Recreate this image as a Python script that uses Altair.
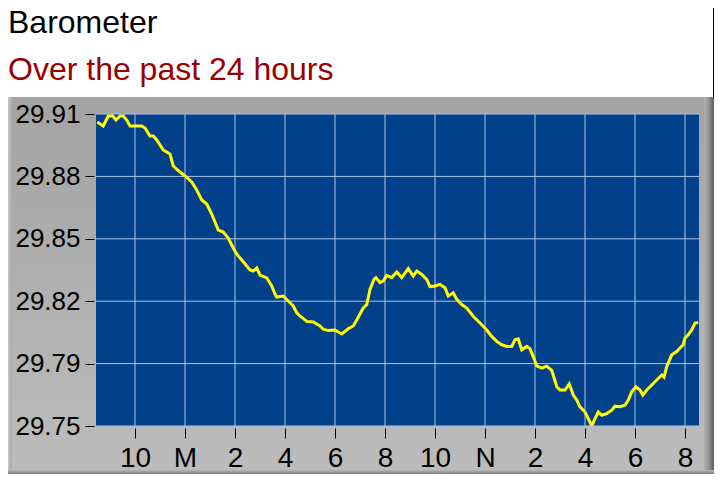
import json
import altair as alt
import pandas as pd

title_text = "Barometer"
subtitle_text = "Over the past 24 hours"

# hours counted from midnight of the first day (22 = 10 pm, 24 = midnight, 36 = noon)
hours = [20.49, 20.73, 20.93, 21.11, 21.24, 21.40, 21.53, 21.67, 21.80, 22.27,
         22.40, 22.60, 22.73, 22.87, 23.13, 23.40, 23.53, 23.80, 24.00, 24.27,
         24.47, 24.67, 24.87, 25.07, 25.33, 25.53, 25.73, 25.93, 26.07, 26.27,
         26.47, 26.60, 26.73, 26.87, 27.00, 27.27, 27.47, 27.60, 27.67, 27.93,
         28.20, 28.33, 28.47, 28.60, 28.87, 29.13, 29.40, 29.53, 29.73, 30.00,
         30.27, 30.53, 30.73, 30.87, 31.00, 31.13, 31.27, 31.40, 31.56, 31.64,
         31.80, 31.93, 32.07, 32.27, 32.47, 32.67, 32.93, 33.13, 33.27, 33.47,
         33.67, 33.80, 34.00, 34.20, 34.40, 34.53, 34.73, 34.87, 35.07, 35.27,
         35.53, 35.80, 36.07, 36.27, 36.47, 36.67, 36.87, 37.07, 37.20, 37.33,
         37.47, 37.67, 37.80, 37.93, 38.07, 38.27, 38.47, 38.67, 38.73, 38.87,
         39.00, 39.20, 39.37, 39.53, 39.67, 39.80, 40.00, 40.13, 40.27, 40.40,
         40.53, 40.67, 40.87, 41.07, 41.20, 41.40, 41.60, 41.73, 41.87, 42.04,
         42.20, 42.31, 42.47, 42.67, 42.87, 43.07, 43.16, 43.27, 43.47, 43.67,
         43.80, 43.93, 44.00, 44.13, 44.27, 44.40, 44.53]

pressure = [29.906, 29.904, 29.909, 29.909, 29.907, 29.909, 29.909, 29.907, 29.904, 29.904,
            29.903, 29.899, 29.899, 29.897, 29.892, 29.890, 29.884, 29.881, 29.879, 29.876,
            29.872, 29.867, 29.865, 29.860, 29.852, 29.851, 29.848, 29.843, 29.840, 29.837,
            29.834, 29.832, 29.8315, 29.833, 29.8295, 29.828, 29.824, 29.820, 29.8185, 29.819,
            29.8156, 29.814, 29.8106, 29.809, 29.8063, 29.806, 29.804, 29.8024, 29.8017, 29.802,
            29.800, 29.8026, 29.804, 29.807, 29.810, 29.813, 29.8147, 29.8223, 29.8273, 29.8282,
            29.8257, 29.8265, 29.8293, 29.8282, 29.831, 29.8282, 29.8327, 29.829, 29.8315, 29.8298,
            29.8273, 29.8237, 29.824, 29.8248, 29.8231, 29.819, 29.8206, 29.8173, 29.8147, 29.813,
            29.8089, 29.8055, 29.802, 29.7988, 29.7963, 29.7946, 29.7938, 29.7938, 29.7971, 29.7976,
            29.7921, 29.7938, 29.7926, 29.7887, 29.784, 29.7829, 29.7839, 29.7818, 29.7795, 29.7736,
            29.772, 29.772, 29.775, 29.7695, 29.767, 29.7636, 29.761, 29.7577, 29.754, 29.7577,
            29.761, 29.7594, 29.7602, 29.7619, 29.7639, 29.7636, 29.7644, 29.767, 29.7711, 29.7736,
            29.772, 29.7695, 29.772, 29.7745, 29.777, 29.7795, 29.7784, 29.7837, 29.7896, 29.7912,
            29.793, 29.7946, 29.798, 29.7996, 29.802, 29.8055, 29.8058]

x_ticks = [22, 24, 26, 28, 30, 32, 34, 36, 38, 40, 42, 44]
x_labels = ["10", "M", "2", "4", "6", "8", "10", "N", "2", "4", "6", "8"]
y_ticks = [29.754, 29.7852, 29.8164, 29.8476, 29.8788, 29.910]
x_domain = [20.44, 44.56]
y_domain = [29.754, 29.910]

FONT = "Liberation Sans"
W, H = 603, 312
PAD = {"left": 88, "top": 106, "right": 15, "bottom": 48}
RIGHT = W + PAD["right"]
BOTTOM = H + PAD["bottom"]
GRID = "#a9c6ea"

df = pd.DataFrame({"h": hours, "p": pressure})
one = pd.DataFrame({"k": [0]})

xscale = alt.Scale(domain=x_domain, nice=False, zero=False)
yscale = alt.Scale(domain=y_domain, nice=False, zero=False)

label_expr = f"{json.dumps(x_labels)}[indexof({json.dumps(x_ticks)}, datum.value)]"
xaxis = alt.Axis(values=x_ticks, labelExpr=label_expr, title=None, grid=False, domain=False,
                 tickColor="black", tickSize=10, tickWidth=1, offset=2,
                 labelFont=FONT, labelFontSize=28, labelColor="black",
                 labelBaseline="alphabetic", labelPadding=28,
                 labelFlush=False, labelOverlap=False, zindex=1)
yaxis = alt.Axis(values=y_ticks, format=".2f", title=None, grid=False, domain=False,
                 tickColor="black", tickSize=9, tickWidth=1, offset=2,
                 labelFont=FONT, labelFontSize=26, labelColor="black", labelPadding=5,
                 labelFlush=False, labelOverlap=False, zindex=1)


def grad(stops, vertical=True):
    return alt.Gradient(
        gradient="linear",
        stops=[alt.GradientStop(offset=o, color=c) for o, c in stops],
        x1=0, y1=0, x2=0 if vertical else 1, y2=1 if vertical else 0,
    )


frame = alt.Chart(one).mark_rect(
    fill=grad([(0, "#a3a3a3"), (1, "#bcbcbc")])
).encode(x=alt.value(-88), x2=alt.value(RIGHT), y=alt.value(-17), y2=alt.value(BOTTOM))

left_edge = alt.Chart(one).mark_rect(
    fill=grad([(0, "#c6c6c6"), (1, "#a9a9a9")], vertical=False)
).encode(x=alt.value(-88), x2=alt.value(-84), y=alt.value(-17), y2=alt.value(BOTTOM))

right_edge = alt.Chart(one).mark_rect(
    fill=grad([(0, "#b0b0b0"), (0.35, "#a0a0a0"), (1, "#5c5c5c")], vertical=False)
).encode(x=alt.value(RIGHT - 10), x2=alt.value(RIGHT), y=alt.value(-17), y2=alt.value(BOTTOM))

bottom_edge = alt.Chart(one).mark_rect(
    fill=grad([(0, "#b8b8b8"), (1, "#7c7c7c")])
).encode(x=alt.value(-88), x2=alt.value(RIGHT), y=alt.value(BOTTOM - 4), y2=alt.value(BOTTOM))

right_border = alt.Chart(one).mark_rule(color="black", strokeWidth=1).encode(
    x=alt.value(RIGHT - 0.5), y=alt.value(-106), y2=alt.value(-17))

plot_bg = alt.Chart(one).mark_rect(fill="#02408a").encode(
    x=alt.value(0), x2=alt.value(W), y=alt.value(0), y2=alt.value(H))

vgrid = alt.Chart(pd.DataFrame({"h": x_ticks})).mark_rule(color=GRID, strokeWidth=1).encode(
    x=alt.X("h:Q", scale=xscale, axis=xaxis), y=alt.value(0), y2=alt.value(H))

hgrid = alt.Chart(pd.DataFrame({"p": y_ticks})).mark_rule(color=GRID, strokeWidth=1).encode(
    y=alt.Y("p:Q", scale=yscale, axis=yaxis), x=alt.value(0), x2=alt.value(W))

line = alt.Chart(df).mark_line(color="#ffff00", strokeWidth=3, clip=True).encode(
    x=alt.X("h:Q", scale=xscale, axis=xaxis),
    y=alt.Y("p:Q", scale=yscale, axis=yaxis),
)

title = alt.Chart(pd.DataFrame({"t": [title_text]})).mark_text(
    align="left", baseline="alphabetic", font=FONT, fontSize=32, color="black"
).encode(text="t:N", x=alt.value(-88), y=alt.value(-81))

subtitle = alt.Chart(pd.DataFrame({"t": [subtitle_text]})).mark_text(
    align="left", baseline="alphabetic", font=FONT, fontSize=32, color="#990000"
).encode(text="t:N", x=alt.value(-88), y=alt.value(-34))

chart = alt.layer(
    frame, left_edge, right_edge, bottom_edge, right_border, plot_bg,
    vgrid, hgrid, line, title, subtitle
).properties(
    width=W, height=H,
    autosize=alt.AutoSizeParams(type="none"),
    padding=PAD,
    background="white",
).configure_view(stroke=None)

chart.save("out.html", embed_options={"renderer": "svg", "actions": False})
